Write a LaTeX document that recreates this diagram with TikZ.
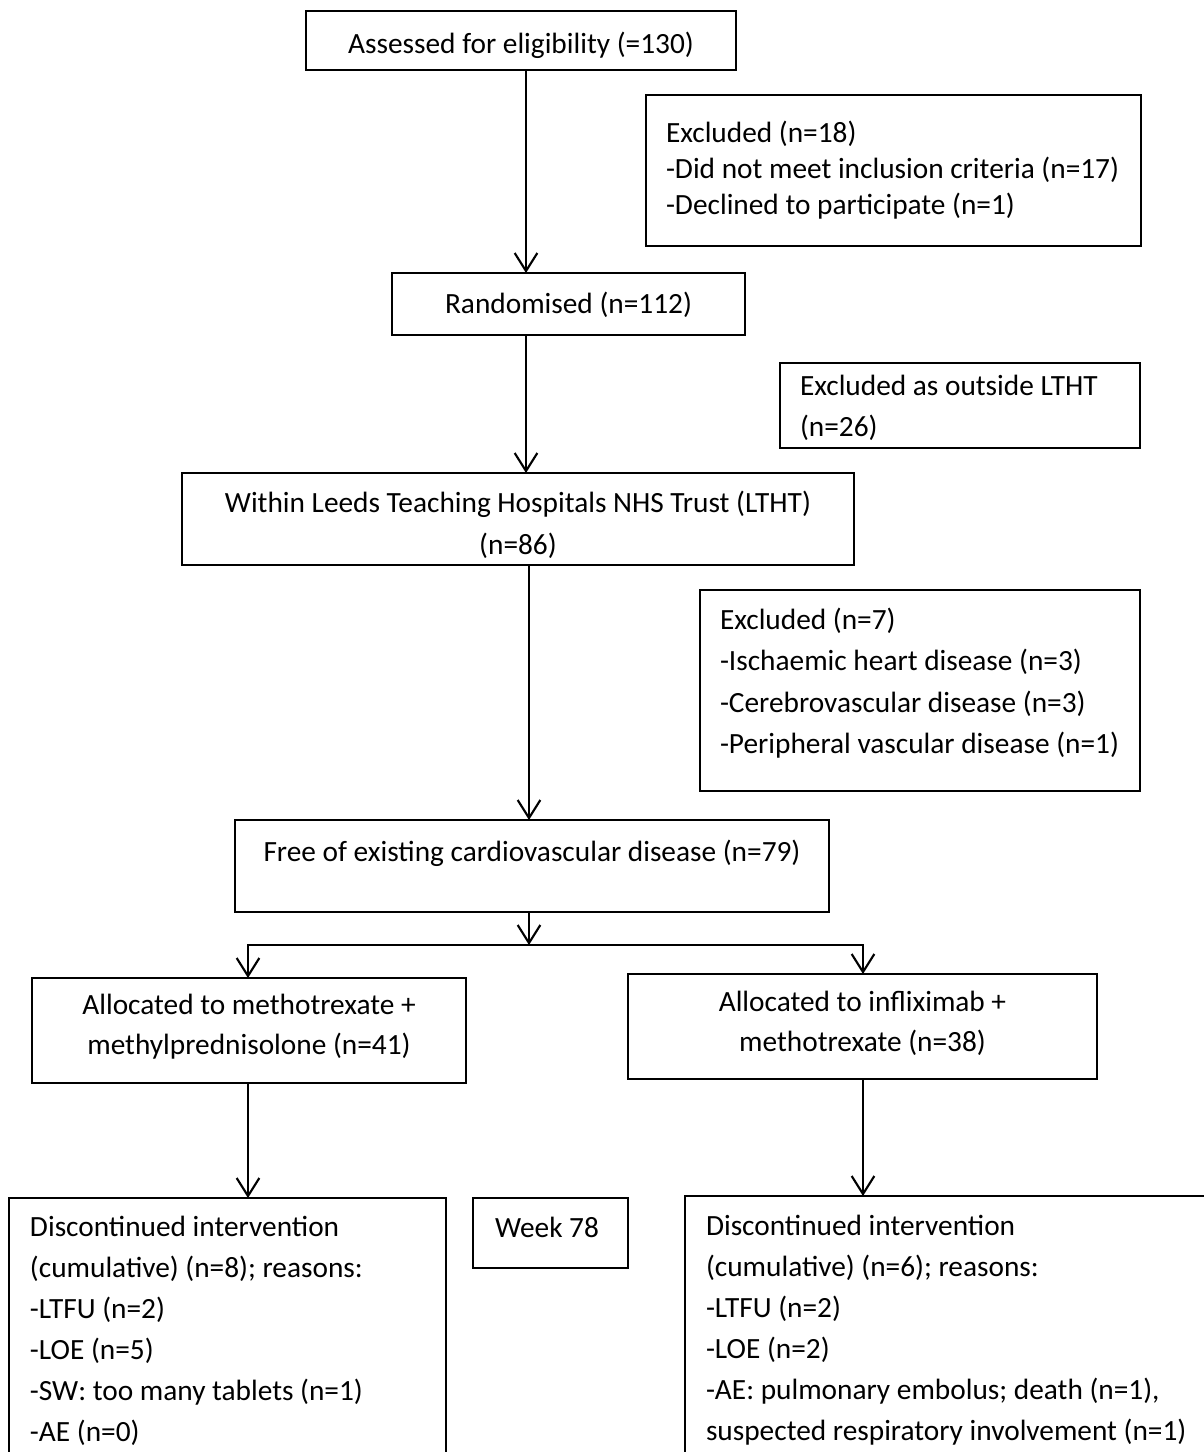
\documentclass[tikz,border=0pt]{standalone}
\usepackage{fontspec}
\setmainfont{Carlito}
\usetikzlibrary{arrows.meta}
\newlength\pu \setlength\pu{0.375pt}
\setlength\parindent{0pt}
% #1 width, #2 height, #3 first baseline below top, #4 line spacing, #5 alignment, #6 text
\newcommand\bx[6]{\parbox[t][#2\pu][t]{#1\pu}{\fontsize{11pt}{13pt}\selectfont\setlength\baselineskip{#4\pu}#5\vspace*{\dimexpr#3\pu-26\pu\relax}\rule{0pt}{26\pu}#6}}
\newcommand\lft[1]{\leftskip=#1\pu\rightskip=0pt plus 1fil\relax}
\tikzset{
  box/.style={draw, line width=0.5pt, inner sep=0pt, outer sep=0pt, anchor=north west},
  arr/.style={line width=0.8pt, -{Straight Barb[length=6.75pt,width=8.5pt,line width=0.8pt]}},
  conn/.style={line width=0.8pt}
}
\begin{document}
\begin{tikzpicture}[x=0.375pt,y=-0.375pt]
\useasboundingbox (0,0) rectangle (1204,1452);
\clip (0,0) rectangle (1204,1452);
\fill[white] (0,0) rectangle (1204,1452);

\node[box] (A) at (306,11) {\bx{430}{59}{42}{36}{\centering}{Assessed for eligibility (=130)}};
\node[box] (X1) at (646,95) {\bx{495}{151}{47}{36}{\lft{20}}{Excluded (n=18)\\-Did not meet inclusion criteria (n=17)\\-Declined to participate (n=1)}};
\node[box] (B) at (392,273) {\bx{353}{62}{40}{36}{\centering}{Randomised (n=112)}};
\node[box] (X2) at (780,363) {\bx{360}{85}{32}{41}{\lft{20}}{Excluded as outside LTHT\\(n=26)}};
\node[box] (C) at (182,473) {\bx{672}{92}{39}{42}{\centering}{Within Leeds Teaching Hospitals NHS Trust (LTHT)\\(n=86)}};
\node[box] (X3) at (700,590) {\bx{440}{201}{39}{41.5}{\lft{20}}{Excluded (n=7)\\-Ischaemic heart disease (n=3)\\-Cerebrovascular disease (n=3)\\-Peripheral vascular disease (n=1)}};
\node[box] (D) at (235,820) {\bx{594}{92}{41}{36}{\centering}{Free of existing cardiovascular disease (n=79)}};
\node[box] (E) at (32,978) {\bx{434}{105}{36}{40}{\centering}{Allocated to methotrexate +\\methylprednisolone (n=41)}};
\node[box] (F) at (628,974) {\bx{469}{105}{37}{40}{\centering}{Allocated to infliximab +\\methotrexate (n=38)}};
\node[box] (G) at (9,1198) {\bx{437}{300}{38}{41}{\lft{21}}{Discontinued intervention\\(cumulative) (n=8); reasons:\\-LTFU (n=2)\\-LOE (n=5)\\-SW: too many tablets (n=1)\\-AE (n=0)}};
\node[box] (W) at (473,1198) {\bx{155}{70}{39}{36}{\lft{22}}{Week 78}};
\node[box] (I) at (685,1196) {\bx{575}{300}{39}{41}{\lft{21}}{Discontinued intervention\\(cumulative) (n=6); reasons:\\-LTFU (n=2)\\-LOE (n=2)\\-AE: pulmonary embolus; death (n=1),\\suspected respiratory involvement (n=1)}};

\coordinate (s1) at (526,0);
\coordinate (s2) at (529,0);
\coordinate (hl) at (248,945);
\coordinate (hr) at (863,945);

\draw[arr] (A.south -| s1) -- (B.north -| s1);
\draw[arr] (B.south -| s1) -- (C.north -| s1);
\draw[arr] (C.south -| s2) -- (D.north -| s2);
\draw[arr] (D.south -| s2) -- (s2 |- hl);
\draw[arr] (s2 |- hl) -| (E.north -| hl);
\draw[arr] (s2 |- hl) -| (F.north -| hr);
\draw[arr] (E.south -| hl) -- (G.north -| hl);
\draw[arr] (F.south -| hr) -- (I.north -| hr);
\end{tikzpicture}
\end{document}
